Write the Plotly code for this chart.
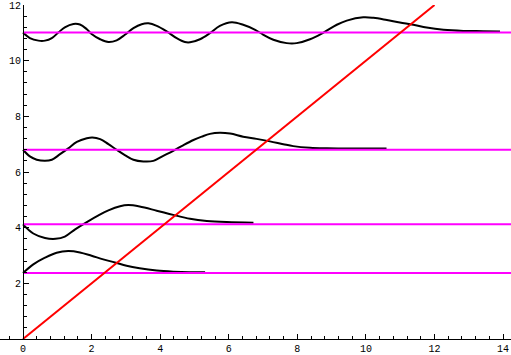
import plotly.graph_objects as go

# Energy levels (horizontal magenta lines)
levels = [2.37, 4.12, 6.80, 11.01]

# Potential line (red)
pot_x = [0, 12]
pot_y = [0, 12]

# Wavefunction curves
c1_x = [0.0, 0.30, 0.64, 0.98, 1.32, 1.66, 2.00, 2.34, 2.68, 3.02, 3.40, 3.90, 4.38, 4.85, 5.31]
c1_y = [2.37, 2.68, 2.92, 3.10, 3.16, 3.11, 2.99, 2.86, 2.75, 2.63, 2.54, 2.46, 2.42, 2.40, 2.40]

c2_x = [0.0, 0.30, 0.64, 0.95, 1.22, 1.52, 1.86, 2.20, 2.49, 2.83, 3.07, 3.40, 3.90, 4.38, 4.87, 5.36, 5.94, 6.72]
c2_y = [4.12, 3.79, 3.63, 3.60, 3.68, 3.94, 4.20, 4.44, 4.62, 4.77, 4.81, 4.76, 4.61, 4.46, 4.32, 4.24, 4.20, 4.18]

c4_x = [0.0, 0.20, 0.40, 0.64, 0.84, 1.08, 1.32, 1.57, 1.86, 2.02, 2.25, 2.49, 2.73, 2.97, 3.22, 3.51, 3.80, 4.09,
        4.38, 4.67, 4.97, 5.21, 5.45, 5.74, 6.04, 6.42, 6.81, 7.20, 7.59, 7.88, 8.37, 8.86, 9.73, 10.60]
c4_y = [6.80, 6.56, 6.44, 6.40, 6.44, 6.64, 6.85, 7.08, 7.21, 7.24, 7.18, 7.00, 6.80, 6.61, 6.44, 6.38, 6.40, 6.58,
        6.76, 6.96, 7.15, 7.27, 7.37, 7.41, 7.38, 7.27, 7.19, 7.10, 7.00, 6.93, 6.87, 6.85, 6.84, 6.84]

c8_x = [0.0, 0.20, 0.45, 0.64, 0.84, 1.03, 1.22, 1.47, 1.66, 1.86, 2.00, 2.25, 2.49, 2.73, 2.97, 3.22, 3.46, 3.66,
        3.90, 4.19, 4.48, 4.72, 4.87, 5.16, 5.45, 5.74, 6.09, 6.42, 6.77, 7.01, 7.30, 7.69, 7.98, 8.37, 8.76, 9.15,
        9.44, 9.92, 10.22, 10.61, 10.99, 11.38, 11.77, 12.26, 12.84, 13.42, 13.91]
c8_y = [11.01, 10.81, 10.72, 10.72, 10.81, 11.01, 11.20, 11.32, 11.30, 11.13, 10.96, 10.77, 10.67, 10.73, 10.93,
        11.17, 11.31, 11.34, 11.25, 11.05, 10.81, 10.67, 10.66, 10.77, 10.99, 11.25, 11.38, 11.29, 11.11, 10.93,
        10.75, 10.63, 10.63, 10.77, 11.01, 11.29, 11.44, 11.56, 11.54, 11.46, 11.37, 11.29, 11.19, 11.11, 11.07,
        11.06, 11.05]

level_x = [0, 15]

x_ticks = [0, 2, 4, 6, 8, 10, 12, 14]
y_ticks = [2, 4, 6, 8, 10, 12]

fig = go.Figure()

for cx, cy in [(c1_x, c1_y), (c2_x, c2_y), (c4_x, c4_y), (c8_x, c8_y)]:
    fig.add_trace(go.Scatter(x=cx, y=cy, mode="lines",
                             line=dict(color="black", width=2, shape="spline", smoothing=1.0),
                             hoverinfo="skip"))

for e in levels:
    fig.add_trace(go.Scatter(x=level_x, y=[e, e], mode="lines",
                             line=dict(color="#FF00FF", width=2), hoverinfo="skip"))

fig.add_trace(go.Scatter(x=pot_x, y=pot_y, mode="lines",
                         line=dict(color="#FF0000", width=2), hoverinfo="skip"))

tick_font = dict(family="Liberation Mono, Courier New, monospace", size=10, color="black")

fig.update_layout(
    width=511, height=355,
    margin=dict(l=0, r=0, t=5, b=14, pad=0),
    paper_bgcolor="white", plot_bgcolor="white",
    showlegend=False,
    xaxis=dict(range=[-0.671, 14.23], showgrid=False, zeroline=False,
               showline=True, linecolor="black", linewidth=1,
               tickmode="array", tickvals=x_ticks,
               ticks="inside", ticklen=5, tickcolor="black", tickwidth=1,
               minor=dict(ticks="inside", ticklen=3, tickcolor="black", tickmode="linear", tick0=0, dtick=0.4),
               tickfont=tick_font, fixedrange=True),
    yaxis=dict(range=[0, 12.0], showgrid=False, zeroline=False,
               showline=True, linecolor="black", linewidth=1,
               anchor="free", position=23 / 511,
               tickmode="array", tickvals=y_ticks,
               ticks="inside", ticklen=5, tickcolor="black", tickwidth=1,
               minor=dict(ticks="inside", ticklen=3, tickcolor="black", tickmode="linear", tick0=0, dtick=0.4),
               tickfont=tick_font, fixedrange=True),
)

fig.write_html("out.html", config={"displayModeBar": False})
